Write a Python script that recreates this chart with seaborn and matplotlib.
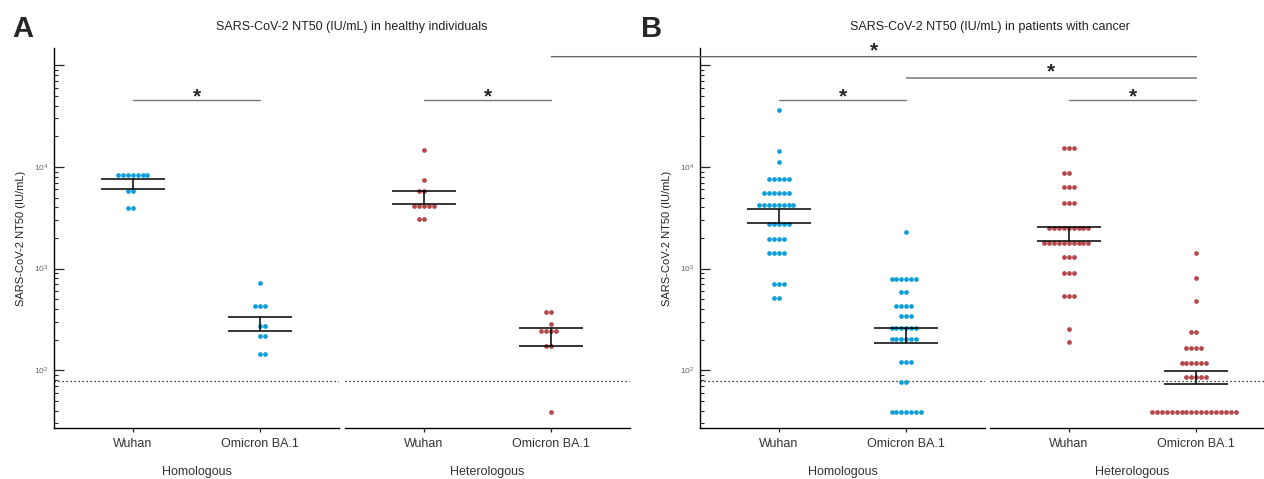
import numpy as np
import pandas as pd
import matplotlib
matplotlib.use("Agg")
import matplotlib.pyplot as plt
import seaborn as sns
from matplotlib.patches import ConnectionPatch
from matplotlib.ticker import LogLocator, NullFormatter

strains = ["Wuhan", "Omicron BA.1"]
regimens = ["Homologous", "Heterologous"]

# each group: titer of every row of dots and how many dots sit on that row
# healthy individuals (A)
a_hom_wuhan_lv = [8340, 5810, 3950]
a_hom_wuhan_n = [7, 2, 2]
a_hom_omi_lv = [722, 425, 271, 219, 144]
a_hom_omi_n = [1, 3, 2, 2, 2]
a_het_wuhan_lv = [14800, 7520, 5860, 4110, 3060]
a_het_wuhan_n = [1, 1, 2, 5, 2]
a_het_omi_lv = [378, 285, 242, 173, 38.6]
a_het_omi_n = [2, 1, 4, 2, 1]

# patients with cancer (B)
b_hom_wuhan_lv = [36300, 14500, 11100, 7690, 5510, 4200, 2730, 1975, 1437, 701, 510]
b_hom_wuhan_n = [1, 1, 1, 5, 6, 8, 5, 4, 4, 3, 2]
b_hom_omi_lv = [2280, 785, 594, 433, 345, 261, 202, 121, 77, 38.6]
b_hom_omi_n = [1, 6, 2, 4, 3, 6, 6, 3, 2, 7]
b_het_wuhan_lv = [15280, 8730, 6310, 4390, 2510, 1805, 1305, 907, 538, 253, 190]
b_het_wuhan_n = [3, 2, 3, 3, 9, 10, 3, 3, 3, 1, 1]
b_het_omi_lv = [1427, 811, 478, 237, 167, 119, 86.7, 38.6]
b_het_omi_n = [1, 1, 1, 2, 4, 6, 5, 18]

# error bar ends (upper, lower): hom Wuhan, hom Omicron, het Wuhan, het Omicron
a_err_hi = [7620, 337, 5800, 259]
a_err_lo = [6120, 244, 4330, 172]
b_err_hi = [3840, 263, 2570, 99]
b_err_lo = [2840, 187, 1875, 73]

lod = 78
sig_low = 45600      # Wuhan vs Omicron bars
sig_mid = 75000      # B hom Omicron vs B het Omicron
sig_top = 121600     # A het Omicron vs B het Omicron

titles = ["SARS-CoV-2 NT50 (IU/mL) in healthy individuals",
          "SARS-CoV-2 NT50 (IU/mL) in patients with cancer"]
blue = "#0f9fd8"
red = "#b3474a"


def make_rows(panel, regimen, strain, levels, counts):
    vals = np.repeat(levels, counts)
    return pd.DataFrame({"panel": panel, "regimen": regimen, "strain": strain, "titer": vals})


df = pd.concat([
    make_rows("A", "Homologous", "Wuhan", a_hom_wuhan_lv, a_hom_wuhan_n),
    make_rows("A", "Homologous", "Omicron BA.1", a_hom_omi_lv, a_hom_omi_n),
    make_rows("A", "Heterologous", "Wuhan", a_het_wuhan_lv, a_het_wuhan_n),
    make_rows("A", "Heterologous", "Omicron BA.1", a_het_omi_lv, a_het_omi_n),
    make_rows("B", "Homologous", "Wuhan", b_hom_wuhan_lv, b_hom_wuhan_n),
    make_rows("B", "Homologous", "Omicron BA.1", b_hom_omi_lv, b_hom_omi_n),
    make_rows("B", "Heterologous", "Wuhan", b_het_wuhan_lv, b_het_wuhan_n),
    make_rows("B", "Heterologous", "Omicron BA.1", b_het_omi_lv, b_het_omi_n),
], ignore_index=True)

sns.set_style("ticks")
plt.rcParams["font.family"] = ["Liberation Sans", "DejaVu Sans"]
plt.rcParams["mathtext.default"] = "regular"

W, H = 1264, 479
fig = plt.figure(figsize=(W / 100, H / 100), dpi=100)

bottom = (H - 428) / H
height = (428 - 48) / H
width = 285 / W
lefts = {("A", "Homologous"): 54, ("A", "Heterologous"): 345,
         ("B", "Homologous"): 700, ("B", "Heterologous"): 990}

axes = {}
for (panel, regimen), left in lefts.items():
    share = axes.get((panel, "Homologous"))
    ax = fig.add_axes([left / W, bottom, width, height], sharey=share)
    axes[(panel, regimen)] = ax

    sub = df[(df.panel == panel) & (df.regimen == regimen)]
    color = blue if regimen == "Homologous" else red
    sns.swarmplot(data=sub, x="strain", y="titer", order=strains, color=color,
                  size=3.4, linewidth=0, log_scale=(False, True), ax=ax, zorder=2)

    hi = a_err_hi if panel == "A" else b_err_hi
    lo = a_err_lo if panel == "A" else b_err_lo
    k = 0 if regimen == "Homologous" else 2
    for i in range(2):
        ax.hlines([hi[k + i], lo[k + i]], i - 0.25, i + 0.25, color="black", lw=1.1, zorder=3)
        ax.vlines(i, lo[k + i], hi[k + i], color="black", lw=1.1, zorder=3)

    ax.axhline(lod, color="black", lw=0.9, ls=(0, (1, 2.2)), zorder=1)

    # Wuhan vs Omicron significance bar
    ax.plot([0, 1], [sig_low, sig_low], color="#777777", lw=1.0, clip_on=False)
    ax.annotate("*", xy=(0.5, sig_low), xytext=(0, -2), textcoords="offset points",
                ha="center", va="baseline", fontsize=15, fontweight="bold", annotation_clip=False)

    ax.set_xlim(-0.615, 1.615)
    ax.set_xlabel("")
    ax.set_ylabel("")
    ax.tick_params(axis="x", direction="out", length=3, width=0.9, labelsize=9,
                   labelcolor="#333333", pad=4)
    ax.text(0.5, -(472 - 428) / (428 - 48), regimen, transform=ax.transAxes,
            ha="center", va="center", fontsize=9, color="#333333")
    for sp in ["bottom", "left"]:
        ax.spines[sp].set_linewidth(1.0)
        ax.spines[sp].set_color("black")

# y axis set up only after every swarmplot, the shared log scale resets ticks
for (panel, regimen), ax in axes.items():
    if regimen == "Homologous":
        sns.despine(ax=ax)
        ax.set_ylim(27, 148000)
        ax.set_yticks([1e2, 1e3, 1e4, 1e5])
        ax.set_yticklabels([r"$10^{2}$", r"$10^{3}$", r"$10^{4}$", ""])
        ax.yaxis.set_minor_locator(LogLocator(base=10, subs=np.arange(2, 10)))
        ax.yaxis.set_minor_formatter(NullFormatter())
        ax.tick_params(axis="y", which="major", direction="in", length=7, width=0.9,
                       labelsize=6, labelcolor="#666666", pad=4)
        ax.tick_params(axis="y", which="minor", direction="in", length=3, width=0.8)
        ax.set_ylabel("SARS-CoV-2 NT50 (IU/mL)", fontsize=8, color="#222222")
        ax.yaxis.set_label_coords(-0.098, 0.5)
    else:
        sns.despine(ax=ax, left=True)
        ax.tick_params(axis="y", which="both", left=False, labelleft=False)


def cross_bar(ax1, ax2, y):
    con = ConnectionPatch(xyA=(1, y), coordsA=ax1.transData, xyB=(1, y), coordsB=ax2.transData,
                          arrowstyle="-", color="#666666", lw=1.0)
    fig.add_artist(con)
    p1 = ax1.transData.transform((1, y))
    p2 = ax2.transData.transform((1, y))
    mid = fig.transFigure.inverted().transform(((p1[0] + p2[0]) / 2, p1[1]))
    fig.text(mid[0], mid[1] + 0.5 / H, "*", ha="center", va="baseline",
             fontsize=15, fontweight="bold")


cross_bar(axes[("A", "Heterologous")], axes[("B", "Heterologous")], sig_top)
cross_bar(axes[("B", "Homologous")], axes[("B", "Heterologous")], sig_mid)

fig.text(352 / W, 1 - 27 / H, titles[0], ha="center", va="center", fontsize=9, color="#222222")
fig.text(990 / W, 1 - 27 / H, titles[1], ha="center", va="center", fontsize=9, color="#222222")
fig.text(12 / W, 1 - 15 / H, "A", ha="left", va="top", fontsize=21, fontweight="bold")
fig.text(641 / W, 1 - 15 / H, "B", ha="left", va="top", fontsize=21, fontweight="bold")

fig.savefig("out.png", dpi=100)
